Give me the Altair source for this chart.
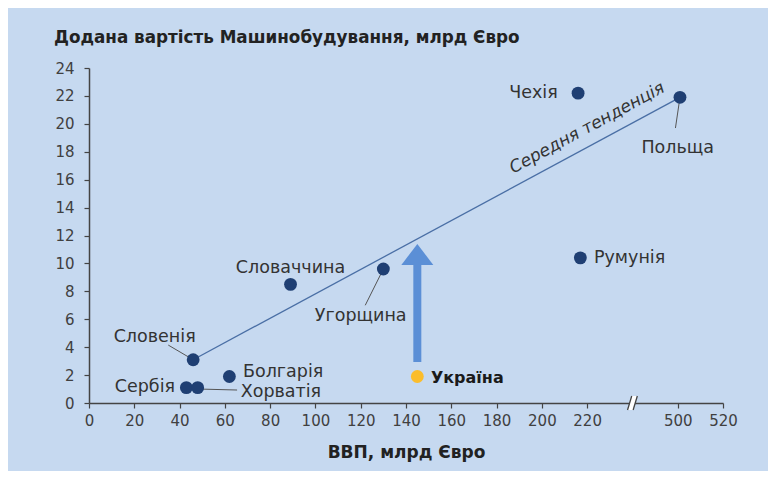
import altair as alt
import pandas as pd

# ---- data ----
countries = ["Чехія", "Польща", "Румунія", "Словаччина", "Угорщина",
             "Словенія", "Болгарія", "Сербія", "Хорватія", "Україна"]
gdp = [216, 501, 217, 89, 130, 46, 62, 43, 48, 145]            # ВВП, млрд Євро
value_added = [22.2, 21.9, 10.4, 8.5, 9.6, 3.1, 1.9, 1.1, 1.1, 1.9]  # млрд Євро

x_ticks = [0, 20, 40, 60, 80, 100, 120, 140, 160, 180, 200, 220, 500, 520]
y_ticks = [0, 2, 4, 6, 8, 10, 12, 14, 16, 18, 20, 22, 24]

# label anchors (data units) and alignment
label_gdp = [207, 500, 223, 89, 120, 29, 68, 38, 67, 151]
label_va = [22.2, 18.3, 10.4, 9.7, 6.2, 4.7, 2.2, 1.15, 0.8, 1.8]
label_align = ["right", "center", "left", "center", "center",
               "center", "left", "right", "left", "left"]

# leader lines: (country, x1, y1, x2, y2)
leaders = [
    ("Польща", 501, 21.9, 499, 19.7),
    ("Угорщина", 130, 9.6, 122, 7.0),
    ("Словенія", 35, 4.15, 46, 3.1),
    ("Хорватія", 48.6, 1.0, 65.4, 0.93),
]

trend_gdp = [46, 501]
trend_va = [3.1, 21.9]
trend_label = "Середня тенденція"

arrow_gdp = 145
arrow_from, arrow_to, arrow_head = 2.94, 10.0, 10.64

# axis break: values above 400 are shifted left by 240
BREAK_SHIFT = 240
BREAK_AT = 240


def tx(v):
    return v - BREAK_SHIFT if v > 400 else v


pts = pd.DataFrame({
    "country": countries,
    "x": [tx(v) for v in gdp],
    "y": value_added,
    "lx": [tx(v) for v in label_gdp],
    "ly": label_va,
    "align": label_align,
    "ukr": [c == "Україна" for c in countries],
})

lead_df = pd.DataFrame({
    "country": [l[0] for l in leaders],
    "x": [tx(l[1]) for l in leaders],
    "y": [l[2] for l in leaders],
    "x2": [tx(l[3]) for l in leaders],
    "y2": [l[4] for l in leaders],
})

trend_df = pd.DataFrame({"x": [tx(v) for v in trend_gdp], "y": trend_va})
trend_lab_df = pd.DataFrame({"x": [220], "y": [19.7], "t": [trend_label]})
arrow_df = pd.DataFrame({"x": [tx(arrow_gdp)], "y": [arrow_from], "y2": [arrow_to], "yh": [arrow_head]})
break_df = pd.DataFrame({"x": [BREAK_AT], "y": [0]})

FONT = "DejaVu Sans"
NAVY = "#1f3f73"
YELLOW = "#fbbd2c"
LABEL_SIZE = 17.5

xscale = alt.Scale(domain=[0, 280], nice=False, zero=False)
yscale = alt.Scale(domain=[0, 24], nice=False)
xaxis = alt.Axis(values=[tx(v) for v in x_ticks],
                 labelExpr="datum.value > 240 ? format(datum.value + 240, 'd') : datum.label",
                 title="ВВП, млрд Євро", labelOverlap=False, labelFlush=False)
yaxis = alt.Axis(values=y_ticks, title=None, labelOverlap=False, labelFlush=False)


def X(f):
    return alt.X(f"{f}:Q", scale=xscale, axis=xaxis)


def Y(f):
    return alt.Y(f"{f}:Q", scale=yscale, axis=yaxis)


base_pts = alt.Chart(pts)

trend = alt.Chart(trend_df).mark_line(color="#4a6fa5", strokeWidth=1.3).encode(x=X("x"), y=Y("y"))

trend_text = alt.Chart(trend_lab_df).mark_text(
    font=FONT, fontSize=17, fontStyle="italic", color="#333333",
    angle=331.6, align="center", baseline="middle"
).encode(x=X("x"), y=Y("y"), text="t:N")

lead = alt.Chart(lead_df).mark_rule(color="#555555", strokeWidth=1).encode(
    x=X("x"), y=Y("y"), x2="x2:Q", y2="y2:Q")

shaft = alt.Chart(arrow_df).mark_rule(color="#5b8fd6", strokeWidth=8, strokeCap="butt").encode(
    x=X("x"), y=Y("y"), y2="y2:Q")
head = alt.Chart(arrow_df).mark_point(
    shape="M -1 0.656 L 0 -0.656 L 1 0.656 Z", size=1024, filled=True,
    color="#5b8fd6", opacity=1).encode(x=X("x"), y=Y("yh"))

dots = base_pts.mark_circle(size=165, opacity=1).encode(
    x=X("x"), y=Y("y"),
    color=alt.condition("datum.ukr", alt.value(YELLOW), alt.value(NAVY)))

label_layers = []
for al in ["left", "right", "center"]:
    label_layers.append(
        base_pts.transform_filter(f"datum.align == '{al}' && !datum.ukr").mark_text(
            font=FONT, fontSize=LABEL_SIZE, color="#333333", align=al, baseline="middle"
        ).encode(x=X("lx"), y=Y("ly"), text="country:N"))
ukr_label = base_pts.transform_filter("datum.ukr").mark_text(
    font=FONT, fontSize=16, fontWeight="bold", color="#1a1a1a", align="left", baseline="middle"
).encode(x=X("lx"), y=Y("ly"), text="country:N")

brk_fill = alt.Chart(break_df).mark_point(
    shape="M -0.7 1 L -0.1 -1 L 0.7 -1 L 0.1 1 Z", size=196, filled=True,
    color="white", opacity=1).encode(x=X("x"), y=Y("y"))
brk_lines = alt.Chart(break_df).mark_point(
    shape="M -0.7 1 L -0.1 -1 M 0.1 1 L 0.7 -1", size=196, filled=False,
    color="#444444", strokeWidth=1.3, opacity=1).encode(x=X("x"), y=Y("y"))

chart = alt.layer(
    trend, lead, shaft, head, dots, *label_layers, ukr_label, trend_text, brk_fill, brk_lines
).properties(
    width=634, height=335,
    autosize=alt.AutoSizeParams(type="none"),
    padding={"left": 81, "top": 60, "right": 45, "bottom": 68},
    background="#c6d9f0",
    title=alt.TitleParams(
        "Додана вартість Машинобудування, млрд Євро",
        anchor="start", frame="group", dx=-35, offset=14,
        font=FONT, fontSize=16.8, fontWeight="bold", color="#222222"),
).configure_view(stroke=None).configure_axis(
    grid=False, domainColor="#444444", domainWidth=1.5,
    tickColor="#444444", tickSize=5, tickWidth=1.2,
    labelFont=FONT, labelFontSize=15, labelColor="#404040",
    titleFont=FONT, titleFontSize=17, titleFontWeight="bold", titleColor="#222222",
).configure_axisX(labelPadding=5, titlePadding=16).configure_axisY(labelPadding=10)

chart.save("out.html", embed_options={"renderer": "svg", "actions": False})
